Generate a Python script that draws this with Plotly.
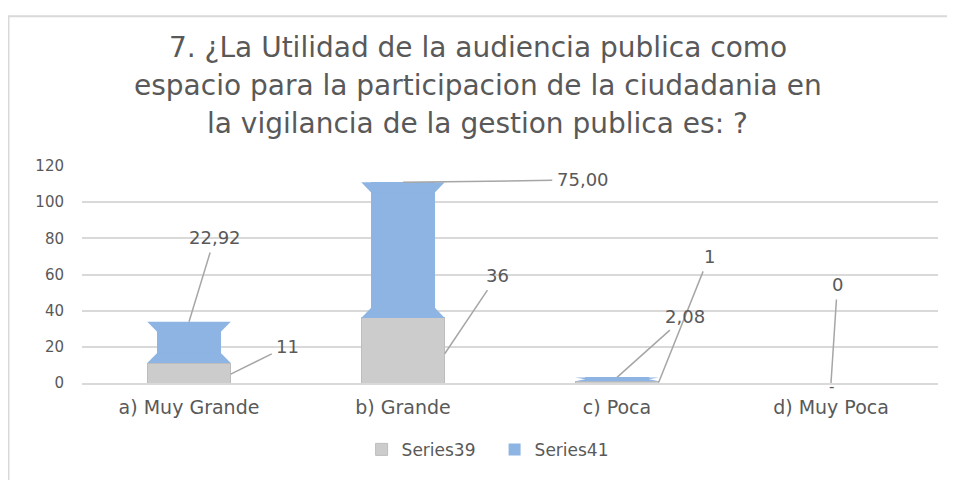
import plotly.graph_objects as go

categorias = ["a) Muy Grande", "b) Grande", "c) Poca", "d) Muy Poca"]
series39 = [11, 36, 1, 0]
series41 = [22.92, 75.00, 2.08, 0]
etiquetas39 = ["11", "36", "1", "0"]
etiquetas41 = ["22,92", "75,00", "2,08", "-"]
y_ticks = [0, 20, 40, 60, 80, 100, 120]
titulo = [
    "7. ¿La Utilidad de la audiencia publica como",
    "espacio para la participacion de la ciudadania en",
    "la vigilancia de la gestion publica es: ?",
]

GRIS_TXT = "#595959"
LINEA = "#a6a6a6"
AZUL = "#8db4e2"
FONT = "DejaVu Sans"

pos = list(range(len(categorias)))
ancho = 0.39      # ancho total de la barra
angosto = 0.30    # ancho de la parte central de la barra azul
flare = 5.5       # alto del ensanche (unidades del eje y)

fig = go.Figure()
fig.add_trace(go.Bar(
    x=pos, y=series39, name="Series39", width=ancho,
    marker=dict(color="#cccccc", line=dict(color="#bdbdbd", width=1)),
))
fig.add_trace(go.Bar(
    x=pos, y=series41, name="Series41", width=angosto,
    marker=dict(color=AZUL, line=dict(width=0)),
))

# ensanches arriba y abajo de la barra azul (forma de reloj de arena)
for i in pos:
    base = series39[i]
    top = base + series41[i]
    if series41[i] <= 0:
        continue
    f = min(flare, series41[i] / 2)
    xa, xb = i - ancho / 2, i + ancho / 2
    na, nb = i - angosto / 2, i + angosto / 2
    for y0, y1 in [(top, top - f), (base, base + f)]:
        fig.add_trace(go.Scatter(
            x=[xa, xb, nb, na, xa], y=[y0, y0, y1, y1, y0],
            fill="toself", fillcolor=AZUL, mode="lines",
            line=dict(width=0, color=AZUL), showlegend=False, hoverinfo="skip",
        ))

# posiciones del texto de las etiquetas (coordenadas de datos)
pos_txt39 = [(0.46, 20.4), (1.44, 59.4), (2.43, 69.9), (3.03, 54.5)]
pos_txt41 = [(0.12, 80.4), (1.84, 112.3), (2.32, 37.0), None]

fuente_lbl = dict(size=18, color=GRIS_TXT, family=FONT)
anots = []
for i in pos:
    tx, ty = pos_txt39[i]
    if series39[i] > 0:
        px_, py_ = i + ancho / 2, series39[i] * 0.45
    else:
        px_, py_ = i, 0
    anots.append(dict(x=px_, y=py_, ax=tx, ay=ty, axref="x", ayref="y",
                      text=etiquetas39[i], showarrow=True, arrowhead=0,
                      arrowwidth=1.5, arrowcolor=LINEA, standoff=0,
                      startstandoff=3, font=fuente_lbl))
    top = series39[i] + series41[i]
    if pos_txt41[i] is None:
        anots.append(dict(x=i, y=top, text=etiquetas41[i], showarrow=False,
                          yshift=-4, font=dict(size=15, color=GRIS_TXT, family=FONT)))
        continue
    tx, ty = pos_txt41[i]
    anots.append(dict(x=i, y=top, ax=tx, ay=ty, axref="x", ayref="y",
                      text=etiquetas41[i], showarrow=True, arrowhead=0,
                      arrowwidth=1.5, arrowcolor=LINEA, standoff=0,
                      startstandoff=3, font=fuente_lbl))

# titulo en tres lineas
for linea, yy in zip(titulo, [1.545, 1.372, 1.194]):
    anots.append(dict(xref="paper", yref="paper", x=0.4626, y=yy,
                      xanchor="center", yanchor="middle", showarrow=False,
                      text=linea, font=dict(size=28, color=GRIS_TXT, family=FONT)))

fig.update_layout(
    width=947, height=472,
    barmode="stack",
    plot_bgcolor="white", paper_bgcolor="white",
    margin=dict(l=74, r=17, t=158, b=85),
    font=dict(family=FONT, color=GRIS_TXT),
    xaxis=dict(
        tickmode="array", tickvals=pos, ticktext=categorias,
        range=[-0.5, 3.5], showgrid=False, zeroline=False,
        showline=True, linecolor="#d9d9d9", linewidth=1.5,
        ticks="", tickfont=dict(size=19, color=GRIS_TXT), ticklabelstandoff=6,
    ),
    yaxis=dict(
        tickmode="array", tickvals=y_ticks, range=[0, 120],
        showgrid=True, gridcolor="#d9d9d9", gridwidth=1.5, zeroline=False,
        showline=False, ticks="", tickfont=dict(size=15, color=GRIS_TXT),
        ticklabelstandoff=17,
    ),
    legend=dict(
        orientation="h", x=0.482, xanchor="center", y=-0.225, yanchor="top",
        traceorder="normal", entrywidth=88,
        font=dict(size=17, color=GRIS_TXT), itemwidth=30,
    ),
    annotations=anots,
    shapes=[dict(type="rect", xref="paper", yref="paper",
                 x0=-0.0859, x1=1.2, y0=-0.7, y1=1.69,
                 line=dict(color="#d9d9d9", width=2), layer="below")],
    showlegend=True,
)

fig.write_html("out.html")
